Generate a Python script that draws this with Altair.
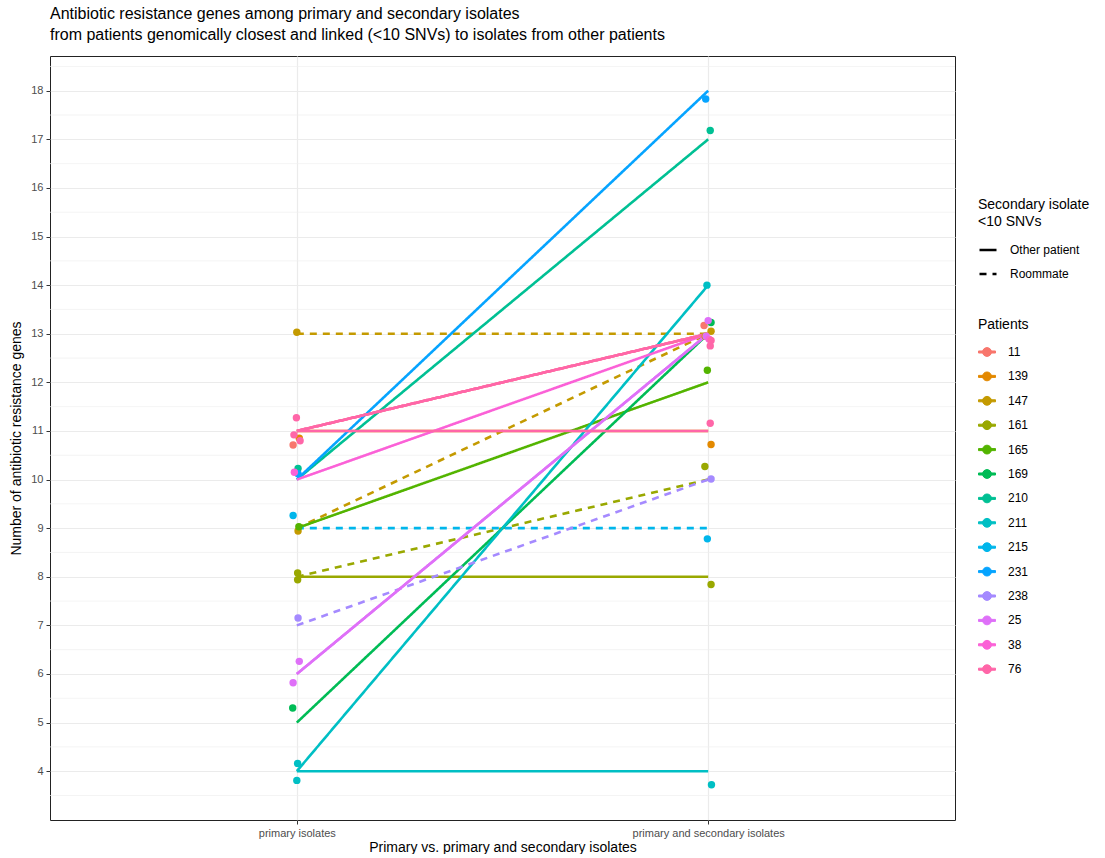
import math
import altair as alt
import pandas as pd

# ---- data ----
patients = ["11", "139", "147", "147", "161", "161", "165", "169", "210", "211", "211",
            "215", "231", "238", "25", "25", "38", "76", "76", "76"]
link_type = ["Other patient", "Other patient", "Roommate", "Roommate", "Other patient", "Roommate",
             "Other patient", "Other patient", "Other patient", "Other patient", "Other patient",
             "Roommate", "Other patient", "Roommate", "Other patient", "Other patient",
             "Other patient", "Other patient", "Other patient", "Other patient"]
primary_genes = [11, 11, 13, 9, 8, 8, 9, 5, 10, 4, 4, 9, 10, 7, 6, 6, 10, 11, 11, 11]
secondary_genes = [13, 11, 13, 13, 8, 10, 12, 13, 17, 14, 4, 9, 18, 10, 13, 13, 13, 13, 11, 13]

# jittered point positions (as drawn by geom_jitter)
primary_jx = [0.991, 1.006, 1.000, 1.003, 1.002, 1.002, 1.005, 0.990, 1.003, 1.002, 1.000,
              0.991, 1.003, 1.003, 1.006, 0.991, 0.994, 0.999, 0.993, 1.008]
primary_jy = [10.71, 10.85, 13.03, 8.94, 7.94, 8.08, 9.03, 5.30, 10.23, 4.16, 3.81,
              9.26, 10.12, 7.15, 6.26, 5.82, 10.15, 11.27, 10.92, 10.80]
secondary_jx = [1.990, 2.007, 1.993, 2.007, 2.007, 1.992, 1.998, 2.007, 2.005, 1.997, 2.008,
                1.998, 1.994, 2.007, 2.000, 1.995, 2.002, 2.005, 2.005, 2.007]
secondary_jy = [13.17, 10.72, 12.95, 13.05, 7.84, 10.27, 12.25, 13.23, 17.18, 14.00, 3.72,
                8.78, 17.83, 10.01, 13.27, 12.95, 12.89, 12.75, 11.16, 12.86]

patient_order = ["11", "139", "147", "161", "165", "169", "210", "211", "215", "231",
                 "238", "25", "38", "76"]
palette = ["#F8766D", "#E38900", "#C49A00", "#99A800", "#53B400", "#00BC56", "#00C094",
           "#00BFC4", "#00B6EB", "#06A4FF", "#A58AFF", "#DF70F8", "#FB61D7", "#FF66A8"]
type_order = ["Other patient", "Roommate"]
x_labels = ["primary isolates", "primary and secondary isolates"]
y_major = list(range(4, 19))
y_minor = [3.5 + k for k in range(16)]

# ---- tables ----
line_rows = []
point_rows = []
for i, p in enumerate(patients):
    line_rows.append(dict(pair=i, patient=p, link=link_type[i], x=1, y=primary_genes[i]))
    line_rows.append(dict(pair=i, patient=p, link=link_type[i], x=2, y=secondary_genes[i]))
    point_rows.append(dict(patient=p, x=primary_jx[i], y=primary_jy[i]))
    point_rows.append(dict(patient=p, x=secondary_jx[i], y=secondary_jy[i]))
lines_df = pd.DataFrame(line_rows)
points_df = pd.DataFrame(point_rows)
minor_df = pd.DataFrame({"y": y_minor})

FONT = "Liberation Sans"
x_scale = alt.Scale(domain=[0.4, 2.6], nice=False, zero=False)
y_scale = alt.Scale(domain=[2.9955, 18.7145], nice=False, zero=False)
color_scale = alt.Scale(domain=patient_order, range=palette)

x_axis = alt.Axis(
    values=[1, 2],
    labelExpr=f"datum.value == 1 ? '{x_labels[0]}' : '{x_labels[1]}'",
    title="Primary vs. primary and secondary isolates",
    grid=True, gridColor="#EBEBEB", gridWidth=1.2,
    domain=False, tickColor="#333333", tickSize=4,
    labelColor="#4D4D4D", labelFontSize=11, labelFont=FONT, labelPadding=3,
    titleFont=FONT, titleFontSize=14, titleFontWeight="normal", titleColor="black",
    titlePadding=2,
)
y_axis = alt.Axis(
    values=y_major,
    format="d",
    title="Number of antibiotic resistance genes",
    grid=True, gridColor="#EBEBEB", gridWidth=1.2,
    domain=False, tickColor="#333333", tickSize=4,
    labelColor="#4D4D4D", labelFontSize=11, labelFont=FONT, labelPadding=3,
    titleFont=FONT, titleFontSize=14, titleFontWeight="normal", titleColor="black",
    titlePadding=7,
)

# legend key: a short line with a dot on it
_dot = [(0.52 * math.cos(2 * math.pi * k / 16), 0.52 * math.sin(2 * math.pi * k / 16))
        for k in range(16)]
dot_line_symbol = ("M-1,-0.12L1,-0.12L1,0.12L-1,0.12Z"
                   + "M" + "L".join(f"{px:.3f},{py:.3f}" for px, py in _dot) + "Z")

patients_legend = alt.Legend(
    title="Patients", orient="none", legendX=928, legendY=262,
    symbolType=dot_line_symbol, symbolSize=289, symbolStrokeWidth=1,
    rowPadding=8.4, labelOffset=12, padding=0, titlePadding=11,
)

minor_grid = alt.Chart(minor_df).mark_rule(color="#EFEFEF", strokeWidth=0.7).encode(
    y=alt.Y("y:Q", scale=y_scale, axis=y_axis),
)

lines = alt.Chart(lines_df).mark_line(strokeWidth=2.6, strokeCap="butt").encode(
    x=alt.X("x:Q", scale=x_scale, axis=x_axis),
    y=alt.Y("y:Q", scale=y_scale),
    color=alt.Color("patient:N", scale=color_scale, legend=patients_legend),
    strokeDash=alt.StrokeDash(
        "link:N",
        scale=alt.Scale(domain=type_order, range=[[1, 0], [7, 6]]),
        legend=alt.Legend(
            title=["Secondary isolate", "\u00a0<10 SNVs"], orient="none", legendX=928, legendY=142,
            symbolType="stroke", symbolStrokeColor="black", symbolStrokeWidth=2.6,
            symbolSize=289, rowPadding=8, labelOffset=12, padding=0, titlePadding=11,
        ),
    ),
    detail="pair:N",
)

points = alt.Chart(points_df).mark_circle(size=55, opacity=1).encode(
    x=alt.X("x:Q", scale=x_scale),
    y=alt.Y("y:Q", scale=y_scale),
    color=alt.Color("patient:N", scale=color_scale, legend=patients_legend),
)

chart = alt.layer(minor_grid, lines, points).properties(
    width=905,
    height=764,
    background="white",
    padding={"left": 9, "top": 6, "right": 5, "bottom": 0},
    title=alt.Title(
        ["Antibiotic resistance genes among primary and secondary isolates",
         "\u00a0from patients genomically closest and linked (<10 SNVs) to isolates from other patients"],
        anchor="start", frame="group", fontSize=16, fontWeight="normal", font=FONT,
        color="black", offset=13, lineHeight=21,
    ),
).configure_view(
    stroke="#222222", strokeWidth=1
).configure_legend(
    titleFont=FONT, titleFontSize=14, titleFontWeight="normal", titleColor="black",
    titleLineHeight=17,
    labelFont=FONT, labelFontSize=12, labelColor="black",
)

chart.save("out.html", embed_options={"renderer": "svg", "actions": False})
